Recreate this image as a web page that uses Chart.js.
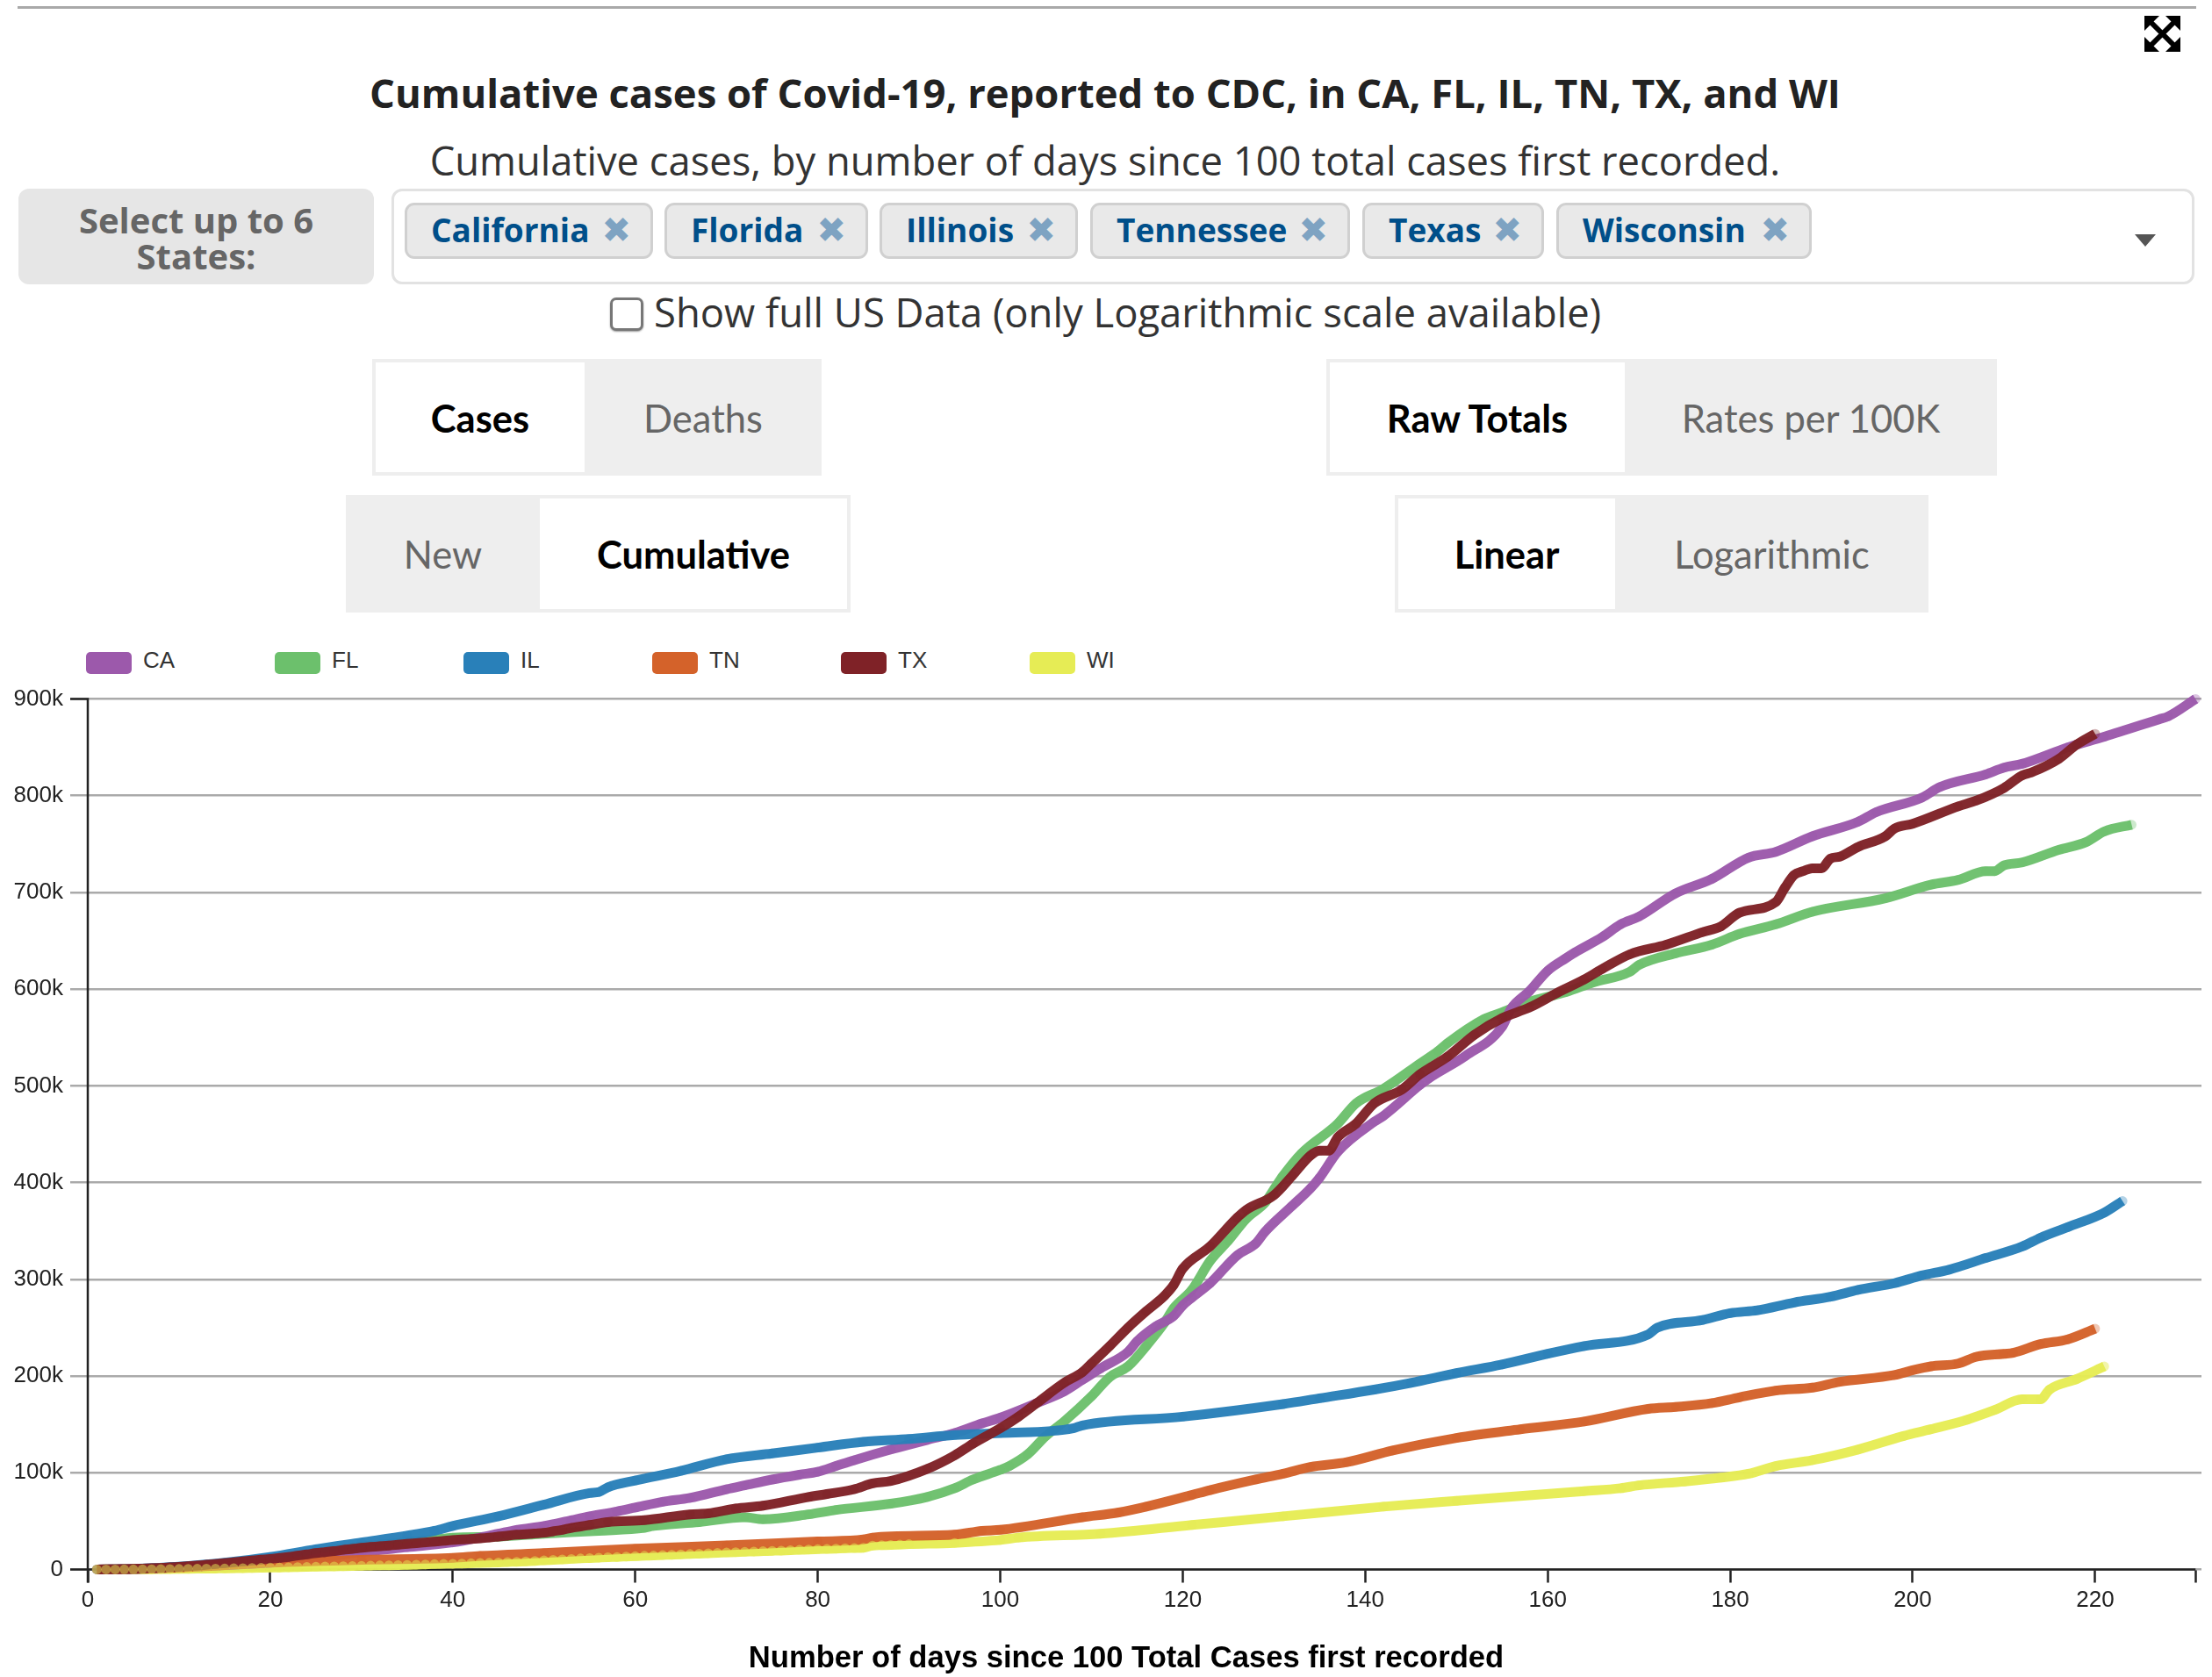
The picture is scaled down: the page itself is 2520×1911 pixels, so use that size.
<!DOCTYPE html>
<html>
<head>
<meta charset="utf-8">
<title>Cumulative cases of Covid-19</title>
<script src="https://cdn.jsdelivr.net/npm/chart.js@4"></script>
<style>
  html, body { margin: 0; padding: 0; background: #fff; }
  body { width: 2520px; height: 1911px; position: relative; overflow: hidden; font-family: "Open Sans", sans-serif; color: #333; }
  .abs { position: absolute; box-sizing: border-box; }
  .center { display: flex; align-items: center; justify-content: center; text-align: center; }
  .tag { background: #e9e9e9; border: 3px solid #d0d0d0; border-radius: 11px; color: #004f8a; font-weight: 700; font-size: 37px; line-height: 56px; display: flex; align-items: center; justify-content: space-between; padding: 0 22px 2px 27px; white-space: nowrap; }
  .tag i { font-style: normal; font-family: "DejaVu Sans"; font-size: 40px; color: #7ea3c2; font-weight: 400; }
  .btn { font-family: Lato, sans-serif; font-size: 43.5px; }
  .on { background: #fff; border: 4px solid #eee; color: #000; font-weight: 700; z-index: 1; }
  .off { background: #eee; color: #666; }
  .leg { font-family: "Liberation Sans", sans-serif; font-size: 26px; color: #333; }
  #chartBox { position: absolute; left: 0; top: 700px; width: 2520px; height: 1211px; }
</style>
</head>
<body>
<div class="abs" style="left:20px;top:7px;width:2482px;height:3px;background:#a9a9a9"></div>
<svg class="abs" style="left:2443px;top:18px" width="41" height="41" viewBox="0 0 41 41">
  <path d="M8 8 L33 33 M33 8 L8 33" stroke="#000" stroke-width="6"/>
  <path d="M0 0 H17 L0 17 Z M41 0 H24 L41 17 Z M0 41 H17 L0 24 Z M41 41 H24 L41 24 Z" fill="#000"/>
</svg>
<div class="abs center" style="left:0;top:75px;width:2518px;height:60px;font-weight:700;font-size:45.4px;color:#222;white-space:nowrap">Cumulative cases of Covid-19, reported to CDC, in CA, FL, IL, TN, TX, and WI</div>
<div class="abs center" style="left:0;top:152px;width:2518px;height:60px;font-size:45.3px;color:#333;white-space:nowrap">Cumulative cases, by number of days since 100 total cases first recorded.</div>

<div class="abs center" style="left:21px;top:215px;width:405px;height:109px;background:#e6e6e6;border-radius:12px;font-weight:700;font-size:40px;line-height:41px;color:#666;padding-top:2px">Select up to 6<br>States:</div>
<div class="abs" style="left:446px;top:215px;width:2054px;height:109px;border:3px solid #e2e2e2;border-radius:12px"></div>
<div class="abs tag" style="left:461px;top:231px;width:283px;height:64px">California <i>✖</i></div>
<div class="abs tag" style="left:757px;top:231px;width:232px;height:64px">Florida <i>✖</i></div>
<div class="abs tag" style="left:1002px;top:231px;width:226px;height:64px">Illinois <i>✖</i></div>
<div class="abs tag" style="left:1242px;top:231px;width:296px;height:64px">Tennessee <i>✖</i></div>
<div class="abs tag" style="left:1552px;top:231px;width:207px;height:64px">Texas <i>✖</i></div>
<div class="abs tag" style="left:1773px;top:231px;width:291px;height:64px">Wisconsin <i>✖</i></div>
<svg class="abs" style="left:2432px;top:267px" width="24" height="14"><path d="M0 0 H24 L12 14 Z" fill="#555"/></svg>

<div class="abs" style="left:695px;top:339px;width:38px;height:38px;border:3px solid #777;border-radius:7px;box-shadow:0 1px 2px #999;background:#fff"></div>
<div class="abs" style="left:745px;top:325px;height:60px;line-height:60px;font-size:45.4px;color:#333;white-space:nowrap">Show full US Data (only Logarithmic scale available)</div>

<div class="abs center btn on" style="left:424px;top:409px;width:246px;height:133px">Cases</div>
<div class="abs center btn off" style="left:666px;top:409px;width:270px;height:133px">Deaths</div>
<div class="abs center btn on" style="left:1511px;top:409px;width:344px;height:133px">Raw Totals</div>
<div class="abs center btn off" style="left:1851px;top:409px;width:424px;height:133px">Rates per 100K</div>
<div class="abs center btn off" style="left:394px;top:564px;width:221px;height:134px">New</div>
<div class="abs center btn on" style="left:611px;top:564px;width:358px;height:134px">Cumulative</div>
<div class="abs center btn on" style="left:1589px;top:564px;width:255px;height:134px">Linear</div>
<div class="abs center btn off" style="left:1840px;top:564px;width:357px;height:134px">Logarithmic</div>

<div id="legendBox"></div>
<div id="chartBox"><canvas id="casesChart" width="2520" height="1211"></canvas></div>
<div class="abs center" style="left:783px;top:1866px;width:1000px;height:44px;font-family:'Liberation Sans',sans-serif;font-weight:700;font-size:34.6px;color:#000;white-space:nowrap" id="xTitle"></div>

<script>
const stateCodes = ["CA", "FL", "IL", "TN", "TX", "WI"];
const stateColors = ["#9c59ab", "#6cc06c", "#2980b9", "#d4622a", "#7f2227", "#e6ec55"];
const xTitleText = "Number of days since 100 Total Cases first recorded";
const xTickValues = [0, 20, 40, 60, 80, 100, 120, 140, 160, 180, 200, 220];
const xDomainEnd = 231;
const yTickValues = [0, 100, 200, 300, 400, 500, 600, 700, 800, 900];

// [day, cases in thousands]
const caCases = [[1,.1],[5,.6],[10,2.5],[15,4.5],[20,7],[25,12],[30,18],[35,23],[40,28],[43,33],[45,37],[47,41],[50,45],[53,51],[55,55],[58,60],[60,64],[63,70],[66,74],[70,83],[72,87],[75,93],[78,98],[80,101],[82,107],[84,113],[88,124],[92,134],[95,141],[98,151],[100,157],[104,172],[107,184],[109,196],[111,208],[114,225],[115,236],[117,251],[119,262],[120,273],[121,281],[123,296],[126,325],[128,337],[129,349],[132,376],[134,394],[135,405],[137,432],[141,463],[142,469],[146,501],[147,508],[151,531],[155,561],[156,580],[158,598],[160,619],[162,632],[163,638],[166,654],[168,667],[170,675],[174,699],[178,714],[182,736],[185,742],[189,758],[194,773],[196,783],[201,798],[203,809],[208,822],[210,829],[212,833],[217,850],[221,861],[227,879],[228,882],[231,900]];
const flCases = [[1,.1],[5,.5],[10,2.5],[15,5],[20,9],[25,17],[30,24],[35,28],[38,31],[40,33],[45,34],[50,37],[56,40],[61,43],[62,45],[67,49],[72,54],[74,52],[79,57],[82,61.6],[88,68],[92,75],[95,84],[97,93],[100,103],[101,107],[103,119],[105,138],[107,153],[110,179],[112,199],[114,210],[116,231],[118,255],[119,270],[121,289],[123,319],[125,340],[127,363],[129,379],[130,393],[131,407],[133,430],[137,461],[139,482],[142,497],[146,523],[148,536],[149,544],[153,569],[155,576],[158,587],[162,597],[165,607],[169,618],[170,625],[174,637],[178,646],[181,657],[185,667],[189,680],[197,694],[202,708],[205,713],[208,722],[209,722],[210,728],[212,731],[216,744],[219,752],[221,763],[224,770]];
const ilCases = [[1,.1],[5,.6],[10,3],[15,7],[20,13],[25,21],[30,28],[35,35],[38,40],[40,45],[45,55],[50,67],[55,79],[56,80],[57,85],[60,92],[65,102],[70,114],[75,120],[80,126],[85,132],[90,135],[95,139],[100,141],[108,146],[109,149],[120,158],[131,171],[135,177],[141,186],[145,193],[150,203],[155,212],[160,223],[164,231],[171,243],[172,250],[177,258],[180,265],[183,268],[187,276],[191,282],[194,289],[198,296],[201,304],[204,310],[208,322],[212,334],[214,343],[217,354],[221,369],[223,381]];
const tnCases = [[1,.1],[5,.5],[10,2],[15,4.5],[20,7],[30,10],[40,12],[43,14],[50,17],[60,21.5],[70,25],[80,29],[85,31],[86,33],[95,36],[98,40],[100,41],[109,54],[113,59],[116,65],[121,77],[123,82],[128,93],[131,99],[134,106],[138,111],[143,123],[150,136],[157,145],[164,153],[171,166],[174,168],[178,172],[181,178],[185,185],[189,188],[192,194],[198,201],[200,206],[202,210],[205,213],[207,220],[210,223],[211,224],[214,233],[217,238],[220,249]];
const txCases = [[1,.1],[2,.2],[3,.3],[4,.5],[5,.7],[6,1],[7,1.3],[8,1.7],[9,2.2],[10,2.8],[11,3.4],[12,4.1],[13,4.9],[14,5.7],[15,6.6],[16,7.5],[17,8.4],[18,9.3],[19,10.2],[20,11],[21,12],[22,13],[23,14.4],[24,15.6],[25,17],[26,18],[27,19],[28,20.3],[29,21.3],[30,22.5],[31,23.3],[32,24],[33,24.8],[34,25.6],[35,26.5],[36,27.3],[37,28],[38,28.8],[39,29.6],[40,30.5],[41,31],[42,31.6],[43,32.2],[44,33],[45,34],[46,35],[47,36],[48,36.6],[49,37.3],[50,38],[51,39.5],[52,41],[53,43],[54,44.5],[55,46],[57,49],[61,51],[66,57],[68,58],[71,63],[74,66],[79,75],[81,78],[84,83],[86,89],[88,91.5],[92,104],[95,118],[97,130],[100,146],[102,158],[104,172],[107,193],[109,204],[110,213],[112,231],[114,250],[116,267],[118,283],[119,294],[120,311],[123,334],[126,364],[127,372],[130,387],[132,407],[134,428],[135,433],[136,433],[137,447],[139,461],[141,482],[144,496],[146,512],[149,530],[152,553],[155,570],[158,581],[161,596],[164,610],[166,621],[169,636],[173,646],[177,659],[179,665],[181,679],[185,690],[186,705],[187,718],[188,722],[189,725],[190,725],[191,735],[192,737],[194,747],[197,758],[198,766],[200,771],[205,789],[207,795],[210,808],[212,821],[213,824],[216,838],[218,853],[220,864]];
const wiCases = [[1,.1],[2,.1],[3,.1],[4,.2],[5,.2],[6,.3],[7,.3],[8,.4],[9,.5],[10,.6],[11,.7],[12,.8],[13,.9],[14,1],[15,1.1],[16,1.3],[17,1.4],[18,1.6],[19,1.8],[20,2],[21,2.1],[22,2.3],[23,2.5],[24,2.7],[25,2.9],[26,3.1],[27,3.2],[28,3.4],[29,3.6],[30,3.8],[31,4],[32,4.2],[33,4.4],[34,4.6],[35,4.8],[36,5],[37,5.3],[38,5.6],[39,5.8],[40,6],[41,6.2],[42,6.5],[43,6.8],[44,7],[45,7.3],[46,7.7],[47,8],[48,8.4],[49,8.9],[50,9.5],[51,10],[52,10.5],[53,11],[54,11.5],[55,11.9],[56,12.3],[57,12.7],[58,13],[59,13.4],[60,13.8],[61,14.2],[62,14.5],[63,14.9],[64,15.3],[65,15.7],[66,16],[67,16.4],[68,16.8],[69,17.2],[70,17.6],[71,18],[72,18.3],[73,18.7],[74,19],[75,19.3],[76,19.6],[77,20],[78,20.3],[79,20.7],[80,21],[81,21.3],[82,21.6],[83,22],[84,22.2],[85,22.5],[86,24.8],[87,25.1],[88,25.4],[89,25.8],[90,26.2],[95,27.5],[100,30.5],[102,33],[111,37],[121,46],[131,55],[142,65],[150,71],[164,81],[168,84],[170,87],[175,91],[179,95],[182,99],[185,107],[189,113],[194,124],[199,138],[202,145],[206,155],[209,165],[212,176],[214,176],[215,186],[218,197],[221,210]];

const stateSeries = [caCases, flCases, ilCases, tnCases, txCases, wiCases];
// lines stack WI, FL, CA, IL, TN, TX from bottom to top (lower order is drawn later)
const lineStack = [3, 4, 2, 1, 0, 5];

function rgba(hex, a) {
  const n = parseInt(hex.slice(1), 16);
  return `rgba(${n >> 16},${(n >> 8) & 255},${n & 255},${a})`;
}

const toPoints = (rows) => rows.map(([x, y]) => ({ x, y }));

const lineSets = stateCodes.map((code, i) => ({
  label: code,
  data: toPoints(stateSeries[i]),
  borderColor: rgba(stateColors[i], 0.97),
  borderWidth: 11,
  cubicInterpolationMode: "monotone",
  borderJoinStyle: "round",
  pointRadius: 0,
  clip: false,
  order: 10 + lineStack[i],
}));

// faint dots sit right above their own line, Wisconsin's go over everything
const dotSets = stateCodes.map((code, i) => ({
  label: code + " points",
  data: toPoints(stateSeries[i]),
  showLine: false,
  pointRadius: 5.5,
  pointBorderWidth: 0,
  pointBackgroundColor: rgba(stateColors[i], code === "WI" ? 0.5 : 0.35),
  clip: false,
  order: code === "WI" ? 0 : 9.5 + lineStack[i],
}));

// d3-style axis lines with the outer end ticks
const axisLines = {
  id: "axisLines",
  beforeDatasetsDraw(chart) {
    const { ctx, scales: { x, y } } = chart;
    const x0 = x.getPixelForValue(0);
    const xEnd = x.getPixelForValue(xDomainEnd);
    const y0 = y.getPixelForValue(0);
    const yTop = y.getPixelForValue(900);
    ctx.save();
    ctx.strokeStyle = "#222";
    ctx.lineWidth = 2.5;
    ctx.beginPath();
    ctx.moveTo(x0 - 20, yTop);
    ctx.lineTo(x0, yTop);
    ctx.lineTo(x0, y0 + 15);
    ctx.moveTo(x0 - 20, y0);
    ctx.lineTo(xEnd, y0);
    ctx.stroke();
    ctx.restore();
  },
};

// the legend spaces its items evenly, which the built-in one can not do
const htmlLegend = {
  id: "htmlLegend",
  afterInit(chart) {
    const box = document.getElementById("legendBox");
    stateCodes.forEach((code, i) => {
      const left = 98 + 215 * i;
      box.insertAdjacentHTML("beforeend",
        `<div class="abs" style="left:${left}px;top:743px;width:52px;height:25px;border-radius:5px;background:${stateColors[i]}"></div>` +
        `<div class="abs leg" style="left:${left + 65}px;top:736px;line-height:32px">${code}</div>`);
    });
  },
};

document.getElementById("xTitle").textContent = xTitleText;

new Chart(document.getElementById("casesChart"), {
  type: "line",
  data: { datasets: [...lineSets, ...dotSets] },
  plugins: [axisLines, htmlLegend],
  options: {
    responsive: false,
    animation: false,
    layout: { padding: { top: 96.5, right: 12, left: 0, bottom: 0 } },
    plugins: { legend: { display: false }, tooltip: { enabled: false } },
    scales: {
      x: {
        type: "linear",
        min: 0,
        max: 231.65,
        afterBuildTicks: (scale) => {
          scale.ticks = [...xTickValues, xDomainEnd].map((value) => ({ value }));
        },
        afterFit: (scale) => { scale.height = 122.5; },
        ticks: {
          autoSkip: false,
          maxRotation: 0,
          padding: 5,
          color: "#222",
          font: { family: "Liberation Sans", size: 26 },
          callback: (value) => (value === xDomainEnd ? "" : value),
        },
        grid: { drawOnChartArea: false, drawTicks: true, tickLength: 15, tickColor: "#222", tickWidth: 2.5 },
        border: { display: false },
      },
      y: {
        type: "linear",
        min: 0,
        max: 900,
        afterBuildTicks: (scale) => {
          scale.ticks = yTickValues.map((value) => ({ value }));
        },
        afterFit: (scale) => { scale.width = 100; },
        ticks: {
          padding: 8,
          color: "#222",
          font: { family: "Liberation Sans", size: 26 },
          callback: (value) => (value === 0 ? "0" : value + "k"),
        },
        grid: { color: "#aaa", lineWidth: 2.5, tickLength: 20 },
        border: { display: false },
      },
    },
  },
});
</script>
</body>
</html>
